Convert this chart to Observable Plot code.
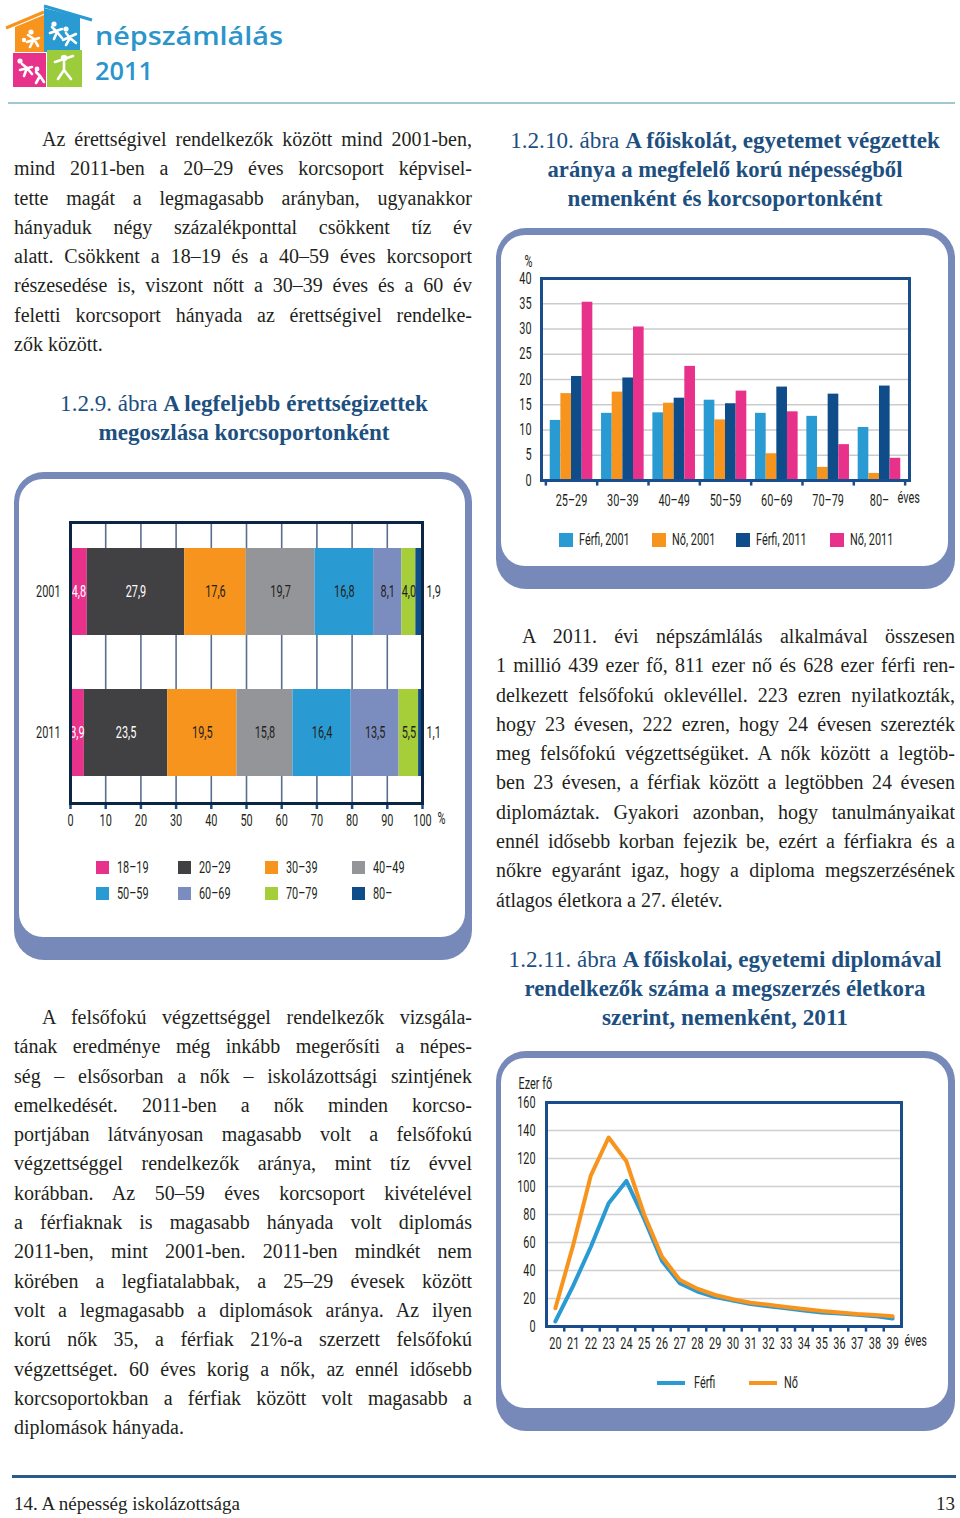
<!DOCTYPE html>
<html><head><meta charset="utf-8">
<script src="https://cdn.jsdelivr.net/npm/d3@7"></script>
<script src="https://cdn.jsdelivr.net/npm/@observablehq/plot@0.6"></script>
<style>
html,body{margin:0;padding:0;background:#fff;}
#page{position:relative;width:960px;height:1518px;overflow:hidden;font-family:"Liberation Serif","DejaVu Serif",serif;color:#231f20;}
.para{position:absolute;font-size:20px;line-height:29.3px;}
.para .ln{display:block;height:29.3px;white-space:nowrap;}
.para .ln span{display:inline-block;white-space:nowrap;}
.capl{position:absolute;width:600px;text-align:center;color:#1d4f80;font-size:22px;line-height:29px;height:29px;white-space:nowrap;}
.capl span{display:inline-block;white-space:nowrap;}
.panel{position:absolute;background:#7689b9;border-radius:30px;}
.panel .in{position:absolute;background:#fff;border-radius:24px;}
.leg{position:absolute;font-family:Roboto,"DejaVu Sans",sans-serif;font-size:16px;color:#231f20;white-space:nowrap;line-height:16px;height:16px;transform:scaleX(0.68);transform-origin:0 50%;}
.sw{position:absolute;width:14px;height:14px;}
.chart{position:absolute;}
.chart svg{overflow:visible;}
#c9 g[aria-label="x-axis tick"]{stroke:#1a4d8c;stroke-width:2.5px;}
</style></head>
<body><div id="page"></div>
<script>
// ---------- DATA ----------
// 1.2.9 stacked shares
const years9 = ["2001", "2011"];
const ageGroups9 = ["18–19", "20–29", "30–39", "40–49", "50–59", "60–69", "70–79", "80–"];
const share2001 = [4.8, 27.9, 17.6, 19.7, 16.8, 8.1, 4.0, 1.9];
const share2011 = [3.9, 23.5, 19.5, 15.8, 16.4, 13.5, 5.5, 1.1];
const colors9 = ["#e8318b", "#414042", "#f7941d", "#939598", "#2a9ad3", "#7b8dbf", "#a6ce39", "#0f4c8a"];
const xTicks9 = [0, 0.1, 0.2, 0.3, 0.4, 0.5, 0.6, 0.7, 0.8, 0.9, 1];

// 1.2.10 grouped bars
const groups10 = ["25–29", "30–39", "40–49", "50–59", "60–69", "70–79", "80–"];
const series10 = ["Férfi, 2001", "Nő, 2001", "Férfi, 2011", "Nő, 2011"];
const ferfi2001 = [11.9, 13.3, 13.4, 15.9, 13.3, 12.7, 10.5];
const no2001 = [17.2, 17.5, 15.3, 12.0, 5.3, 2.6, 1.4];
const ferfi2011 = [20.6, 20.3, 16.3, 15.2, 18.5, 17.1, 18.7];
const no2011 = [35.3, 30.4, 22.6, 17.7, 13.6, 7.1, 4.4];
const colors10 = ["#2a9ad3", "#f7941d", "#0f4c8a", "#e8318b"];
const yTicks10 = [0, 5, 10, 15, 20, 25, 30, 35, 40];

// 1.2.11 lines
const ages11 = [20, 21, 22, 23, 24, 25, 26, 27, 28, 29, 30, 31, 32, 33, 34, 35, 36, 37, 38, 39];
const ferfi11 = [3.6, 29, 57, 88, 104, 77, 47, 31, 25, 21, 18.5, 16, 14.5, 13, 11.5, 10, 9.2, 8.4, 7.4, 5.7];
const no11 = [13, 58, 108, 135, 118, 80, 50, 33.4, 27, 22.5, 19.5, 17, 15.5, 14, 12.5, 11, 10, 9, 8.3, 7.3];
const sexes11 = ["Férfi", "Nő"];
const colors11 = ["#2a9ad3", "#f7941d"];
const yTicks11 = [0, 20, 40, 60, 80, 100, 120, 140, 160];

// ---------- PAGE ----------
const page = document.getElementById("page");
const cond = 'Roboto,"DejaVu Sans",sans-serif';
const navy = "#1a4d8c";
const fmt = d => d.toFixed(1).replace(".", ",");
function el(tag, css, html) { const e = document.createElement(tag); if (css) e.style.cssText = css; if (html != null) e.innerHTML = html; page.appendChild(e); return e; }

// logo
el("div", "position:absolute;left:0;top:0;width:300px;height:95px", `
<svg width="300" height="95" xmlns="http://www.w3.org/2000/svg">
 <polygon points="15,27 44,15 44,52 15,52" fill="#f7941d"/>
 <line x1="6" y1="28" x2="44" y2="12" stroke="#f7941d" stroke-width="3"/>
 <polygon points="44,8 80,17 80,52 44,52" fill="#2a9ad3"/>
 <line x1="44" y1="6" x2="92" y2="20" stroke="#2a9ad3" stroke-width="3"/>
 <rect x="13" y="53" width="33" height="34" fill="#e8318b"/>
 <rect x="47" y="50" width="35" height="37" fill="#9ccb3b"/>
 <g stroke="#fff" stroke-width="2.6" stroke-linecap="round" fill="none">
  <path d="M28,35 l6,4 M34,39 l-4,8 M34,39 l4,7 M27,42 l12,-4"/>
  <path d="M52,27 l5,5 M57,32 l-3,7 M57,32 l5,6 M50,33 l12,-4"/>
  <path d="M66,33 l4,5 M70,38 l-4,7 M70,38 l6,5 M63,40 l13,-6"/>
  <path d="M22,64 l5,4 M27,68 l-3,8 M27,68 l5,6 M20,70 l12,-3"/>
  <path d="M36,72 l4,4 M40,76 l-4,7 M40,76 l4,6"/>
  <path d="M64,62 l0,8 M64,70 l-6,9 M64,70 l7,9 M55,62 l18,-6"/>
 </g>
 <g fill="#fff"><circle cx="31" cy="32" r="2.6"/><circle cx="24" cy="40" r="2.2"/><circle cx="54" cy="24" r="2.6"/><circle cx="66" cy="29" r="2.6"/><circle cx="20" cy="61" r="2.6"/><circle cx="37" cy="69" r="2.4"/><circle cx="64" cy="58" r="3.2"/></g>
 <text x="95" y="45" font-family="'Open Sans',sans-serif" font-weight="600" font-size="26" fill="#2b95cb" textLength="188" lengthAdjust="spacingAndGlyphs">népszámlálás</text>
 <text x="95" y="80" font-family="'Open Sans',sans-serif" font-weight="600" font-size="25" fill="#2b95cb" textLength="58" lengthAdjust="spacingAndGlyphs">2011</text>
</svg>`);
el("div", "position:absolute;left:8px;top:102px;width:947px;height:2px;background:#9fc8d2");

// panels
function panel(l, t, w, h) {
  const p = el("div", `left:${l}px;top:${t}px;width:${w}px;height:${h}px`); p.className = "panel";
  const i = document.createElement("div"); i.className = "in";
  i.style.cssText = `left:5px;top:7px;width:${w - 12}px;height:${h - 30}px`; p.appendChild(i);
}
panel(14, 472, 458, 488);
panel(496, 228, 459, 361);
panel(496, 1051, 459, 380);

// paragraphs
const just = [];
function para(left, top, width, lines, indent) {
  const p = el("div", `left:${left}px;top:${top}px;width:${width}px`); p.className = "para";
  lines.forEach((t, i) => {
    const ln = document.createElement("div"); ln.className = "ln";
    if (i === 0) ln.style.paddingLeft = indent + "px";
    const sp = document.createElement("span"); sp.textContent = t; ln.appendChild(sp); p.appendChild(ln);
    if (i < lines.length - 1) just.push([sp, width - (i === 0 ? indent : 0)]);
  });
}
para(14, 125, 458, [
  "Az érettségivel rendelkezők között mind 2001-ben,",
  "mind 2011-ben a 20–29 éves korcsoport képvisel-",
  "tette magát a legmagasabb arányban, ugyanakkor",
  "hányaduk négy százalékponttal csökkent tíz év",
  "alatt. Csökkent a 18–19 és a 40–59 éves korcsoport",
  "részesedése is, viszont nőtt a 30–39 éves és a 60 év",
  "feletti korcsoport hányada az érettségivel rendelke-",
  "zők között."], 28);
para(496, 622, 459, [
  "A 2011. évi népszámlálás alkalmával összesen",
  "1 millió 439 ezer fő, 811 ezer nő és 628 ezer férfi ren-",
  "delkezett felsőfokú oklevéllel. 223 ezren nyilatkozták,",
  "hogy 23 évesen, 222 ezren, hogy 24 évesen szerezték",
  "meg felsőfokú végzettségüket. A nők között a legtöb-",
  "ben 23 évesen, a férfiak között a legtöbben 24 évesen",
  "diplomáztak. Gyakori azonban, hogy tanulmányaikat",
  "ennél idősebb korban fejezik be, ezért a férfiakra és a",
  "nőkre egyaránt igaz, hogy a diploma megszerzésének",
  "átlagos életkora a 27. életév."], 26);
para(14, 1003, 458, [
  "A felsőfokú végzettséggel rendelkezők vizsgála-",
  "tának eredménye még inkább megerősíti a népes-",
  "ség – elsősorban a nők – iskolázottsági szintjének",
  "emelkedését. 2011-ben a nők minden korcso-",
  "portjában látványosan magasabb volt a felsőfokú",
  "végzettséggel rendelkezők aránya, mint tíz évvel",
  "korábban. Az 50–59 éves korcsoport kivételével",
  "a férfiaknak is magasabb hányada volt diplomás",
  "2011-ben, mint 2001-ben. 2011-ben mindkét nem",
  "körében a legfiatalabbak, a 25–29 évesek között",
  "volt a legmagasabb a diplomások aránya. Az ilyen",
  "korú nők 35, a férfiak 21%-a szerzett felsőfokú",
  "végzettséget. 60 éves korig a nők, az ennél idősebb",
  "korcsoportokban a férfiak között volt magasabb a",
  "diplomások hányada."], 28);

// captions
const capFit = [];
function caption(cx, firstCenter, lines) {
  lines.forEach((l, i) => {
    const d = el("div", `left:${cx - 300}px;top:${firstCenter - 14.5 + i * 29}px`); d.className = "capl";
    const s = document.createElement("span"); s.innerHTML = l[0]; d.appendChild(s); capFit.push([s, l[1]]);
  });
}
caption(244, 403, [["1.2.9. ábra <b>A legfeljebb érettségizettek</b>", 368], ["<b>megoszlása korcsoportonként</b>", 291]]);
caption(725, 140, [["1.2.10. ábra <b>A főiskolát, egyetemet végzettek</b>", 430], ["<b>aránya a megfelelő korú népességből</b>", 355], ["<b>nemenként és korcsoportonként</b>", 315]]);
caption(725, 959, [["1.2.11. ábra <b>A főiskolai, egyetemi diplomával</b>", 433], ["<b>rendelkezők száma a megszerzés életkora</b>", 401], ["<b>szerint, nemenként, 2011</b>", 246]]);

// footer
el("div", "position:absolute;left:12px;top:1475px;width:944px;height:3px;background:#2b5b8c");
el("div", "position:absolute;left:14px;top:1492px;font-size:19px;line-height:24px;white-space:nowrap", "14. A népesség iskolázottsága");
el("div", "position:absolute;right:5px;top:1492px;font-size:19px;line-height:24px;white-space:nowrap", "13");

// ---------- CHART 1.2.9 ----------
const data9 = [];
years9.forEach((y, i) => { const arr = i ? share2011 : share2001; ageGroups9.forEach((a, k) => data9.push({year: y, age: a, value: arr[k]})); });
const light9 = new Set(["18–19", "20–29"]);
const last9 = "80–";
const chart9 = Plot.plot({
  width: 458, height: 328, marginLeft: 56, marginRight: 50, marginTop: 17, marginBottom: 30,
  style: {fontFamily: cond, fontSize: "16px", color: "#231f20", background: "transparent"},
  x: {domain: [0, 1], ticks: xTicks9, tickFormat: d => Math.round(d * 100), tickSize: 6, tickPadding: 5, label: null},
  y: {domain: years9, paddingInner: 0.38, paddingOuter: 0.18, tickSize: 0, tickPadding: 10, label: null},
  color: {domain: ageGroups9, range: colors9},
  marks: [
    Plot.ruleX(xTicks9.slice(1, -1), {x: d => d, stroke: "#5c6e8f", strokeWidth: 1.6}),
    Plot.barX(data9, Plot.stackX({offset: "normalize", x: "value", y: "year", fill: "age"})),
    Plot.text(data9, Plot.stackX({offset: "normalize", x: "value", y: "year", z: "age", fontSize: 16,
      text: d => light9.has(d.age) ? fmt(d.value) : null, fill: "white"})),
    Plot.text(data9, Plot.stackX({offset: "normalize", x: "value", y: "year", z: "age", fontSize: 16,
      text: d => (!light9.has(d.age) && d.age !== last9) ? fmt(d.value) : null, fill: "#231f20"})),
    Plot.text(data9.filter(d => d.age === last9), {frameAnchor: "right", y: "year", text: d => fmt(d.value), textAnchor: "start", dx: 4, fontSize: 16, fill: "#231f20"}),
    Plot.frame({stroke: "#0b2545", strokeWidth: 3}),
    Plot.text(["%"], {frameAnchor: "bottom-right", text: d => d, textAnchor: "start", dx: 15, dy: 20})
  ]
});
const c9 = el("div", "left:14px;top:505px"); c9.className = "chart"; c9.id = "c9"; c9.appendChild(chart9);

// legend 1.2.9
const legX9 = [96, 178, 265, 352];
ageGroups9.forEach((a, k) => {
  const x = legX9[k % 4], y = k < 4 ? 861 : 887;
  el("div", `left:${x}px;top:${y}px;width:13px;height:13px;background:${colors9[k]}`).className = "sw";
  el("div", `left:${x + 21}px;top:${y - 1}px`, a).className = "leg";
});

// ---------- CHART 1.2.10 ----------
const data10 = [];
const arr10 = [ferfi2001, no2001, ferfi2011, no2011];
groups10.forEach((g, i) => arr10.forEach((arr, k) => data10.push({group: g, series: series10[k], value: arr[i]})));
const W10 = 459, ml10 = 45, mr10 = 46, pad10 = 0.17;
const band10 = d3.scaleBand(groups10, [ml10, W10 - mr10]).padding(pad10);
const bw10 = band10.bandwidth(), st10 = band10.step();
const chart10 = Plot.plot({
  width: W10, height: 275, marginLeft: ml10, marginRight: mr10, marginTop: 38, marginBottom: 35,
  style: {fontFamily: cond, fontSize: "16px", color: "#231f20", background: "transparent"},
  x: {domain: groups10, padding: pad10, round: false, tickSize: 0, tickPadding: 14, label: null},
  y: {domain: [0, 40], ticks: yTicks10, tickSize: 0, tickPadding: 10, label: null},
  color: {domain: series10, range: colors10},
  marks: [
    Plot.ruleY(yTicks10.filter(v => v > 0 && v < 40), {y: d => d, stroke: "#cbcbcb", strokeWidth: 1.3}),
    ...series10.map((s, k) => Plot.barY(data10.filter(d => d.series === s), {x: "group", y: "value", fill: "series",
      insetLeft: k * bw10 / 4, insetRight: (3 - k) * bw10 / 4})),
    Plot.ruleX(groups10, {x: d => d, y1: 0, y2: -1.1, dx: -st10 / 2, stroke: navy, strokeWidth: 2.5}),
    Plot.ruleX(groups10.slice(-1), {x: d => d, y1: 0, y2: -1.1, dx: st10 / 2, stroke: navy, strokeWidth: 2.5}),
    Plot.frame({stroke: navy, strokeWidth: 3}),
    Plot.text(["%"], {frameAnchor: "top-left", text: d => d, dx: -17, dy: -23}),
    Plot.text(["éves"], {frameAnchor: "bottom-right", text: d => d, textAnchor: "start", dx: -12, dy: 22})
  ]
});
const c10 = el("div", "left:496px;top:240px"); c10.className = "chart"; c10.appendChild(chart10);

// legend 1.2.10
const legX10 = [559, 652, 736, 830];
series10.forEach((s, k) => {
  el("div", `left:${legX10[k]}px;top:533px;background:${colors10[k]}`).className = "sw";
  el("div", `left:${legX10[k] + 20}px;top:532px`, s).className = "leg";
});

// ---------- CHART 1.2.11 ----------
const data11 = [];
ages11.forEach((a, i) => { data11.push({age: a, sex: sexes11[0], value: ferfi11[i]}); });
ages11.forEach((a, i) => { data11.push({age: a, sex: sexes11[1], value: no11[i]}); });
const chart11 = Plot.plot({
  width: 459, height: 288, marginLeft: 50, marginRight: 54, marginTop: 32, marginBottom: 32,
  style: {fontFamily: cond, fontSize: "16px", color: "#231f20", background: "transparent"},
  x: {domain: [ages11[0] - 0.5, ages11[ages11.length - 1] + 0.5], ticks: ages11, tickFormat: d => String(d), tickSize: 0, tickPadding: 11, label: null},
  y: {domain: [0, 160], ticks: yTicks11, tickSize: 0, tickPadding: 11, label: null},
  color: {domain: sexes11, range: colors11},
  marks: [
    Plot.ruleY(yTicks11.filter(v => v > 0 && v < 160), {y: d => d, stroke: "#cfcfcf", strokeWidth: 1.3}),
    Plot.line(data11, {x: "age", y: "value", stroke: "sex", z: "sex", strokeWidth: 4}),
    Plot.ruleX(ages11.slice(1), {x: d => d - 0.5, y1: 0, y2: -4, stroke: navy, strokeWidth: 2.5}),
    Plot.frame({stroke: navy, strokeWidth: 3}),
    Plot.text(["Ezer fő"], {frameAnchor: "top-left", text: d => d, textAnchor: "start", dx: -28, dy: -25}),
    Plot.text(["éves"], {frameAnchor: "bottom-right", text: d => d, textAnchor: "start", dx: 3, dy: 19})
  ]
});
const c11 = el("div", "left:496px;top:1070px"); c11.className = "chart"; c11.appendChild(chart11);

// legend 1.2.11
sexes11.forEach((s, k) => {
  const x = k ? 749 : 657;
  el("div", `position:absolute;left:${x}px;top:1381px;width:28px;height:4px;background:${colors11[k]}`);
  el("div", `left:${x + (k ? 35 : 37)}px;top:1375px`, s).className = "leg";
});

// ---------- text fitting ----------
just.forEach(([sp, target]) => {
  const nat = sp.getBoundingClientRect().width;
  const n = (sp.textContent.match(/ /g) || []).length;
  if (n) sp.style.wordSpacing = ((target - nat) / n) + "px";
});
capFit.forEach(([s, target]) => {
  const nat = s.getBoundingClientRect().width;
  s.parentNode.style.fontSize = (22 * target / nat) + "px";
});
// condensed look for chart texts
document.querySelectorAll(".chart svg text").forEach(t => {
  const L = t.getComputedTextLength();
  if (L > 0) { t.setAttribute("textLength", (L * 0.68).toFixed(2)); t.setAttribute("lengthAdjust", "spacingAndGlyphs"); }
});
</script>
</body></html>
